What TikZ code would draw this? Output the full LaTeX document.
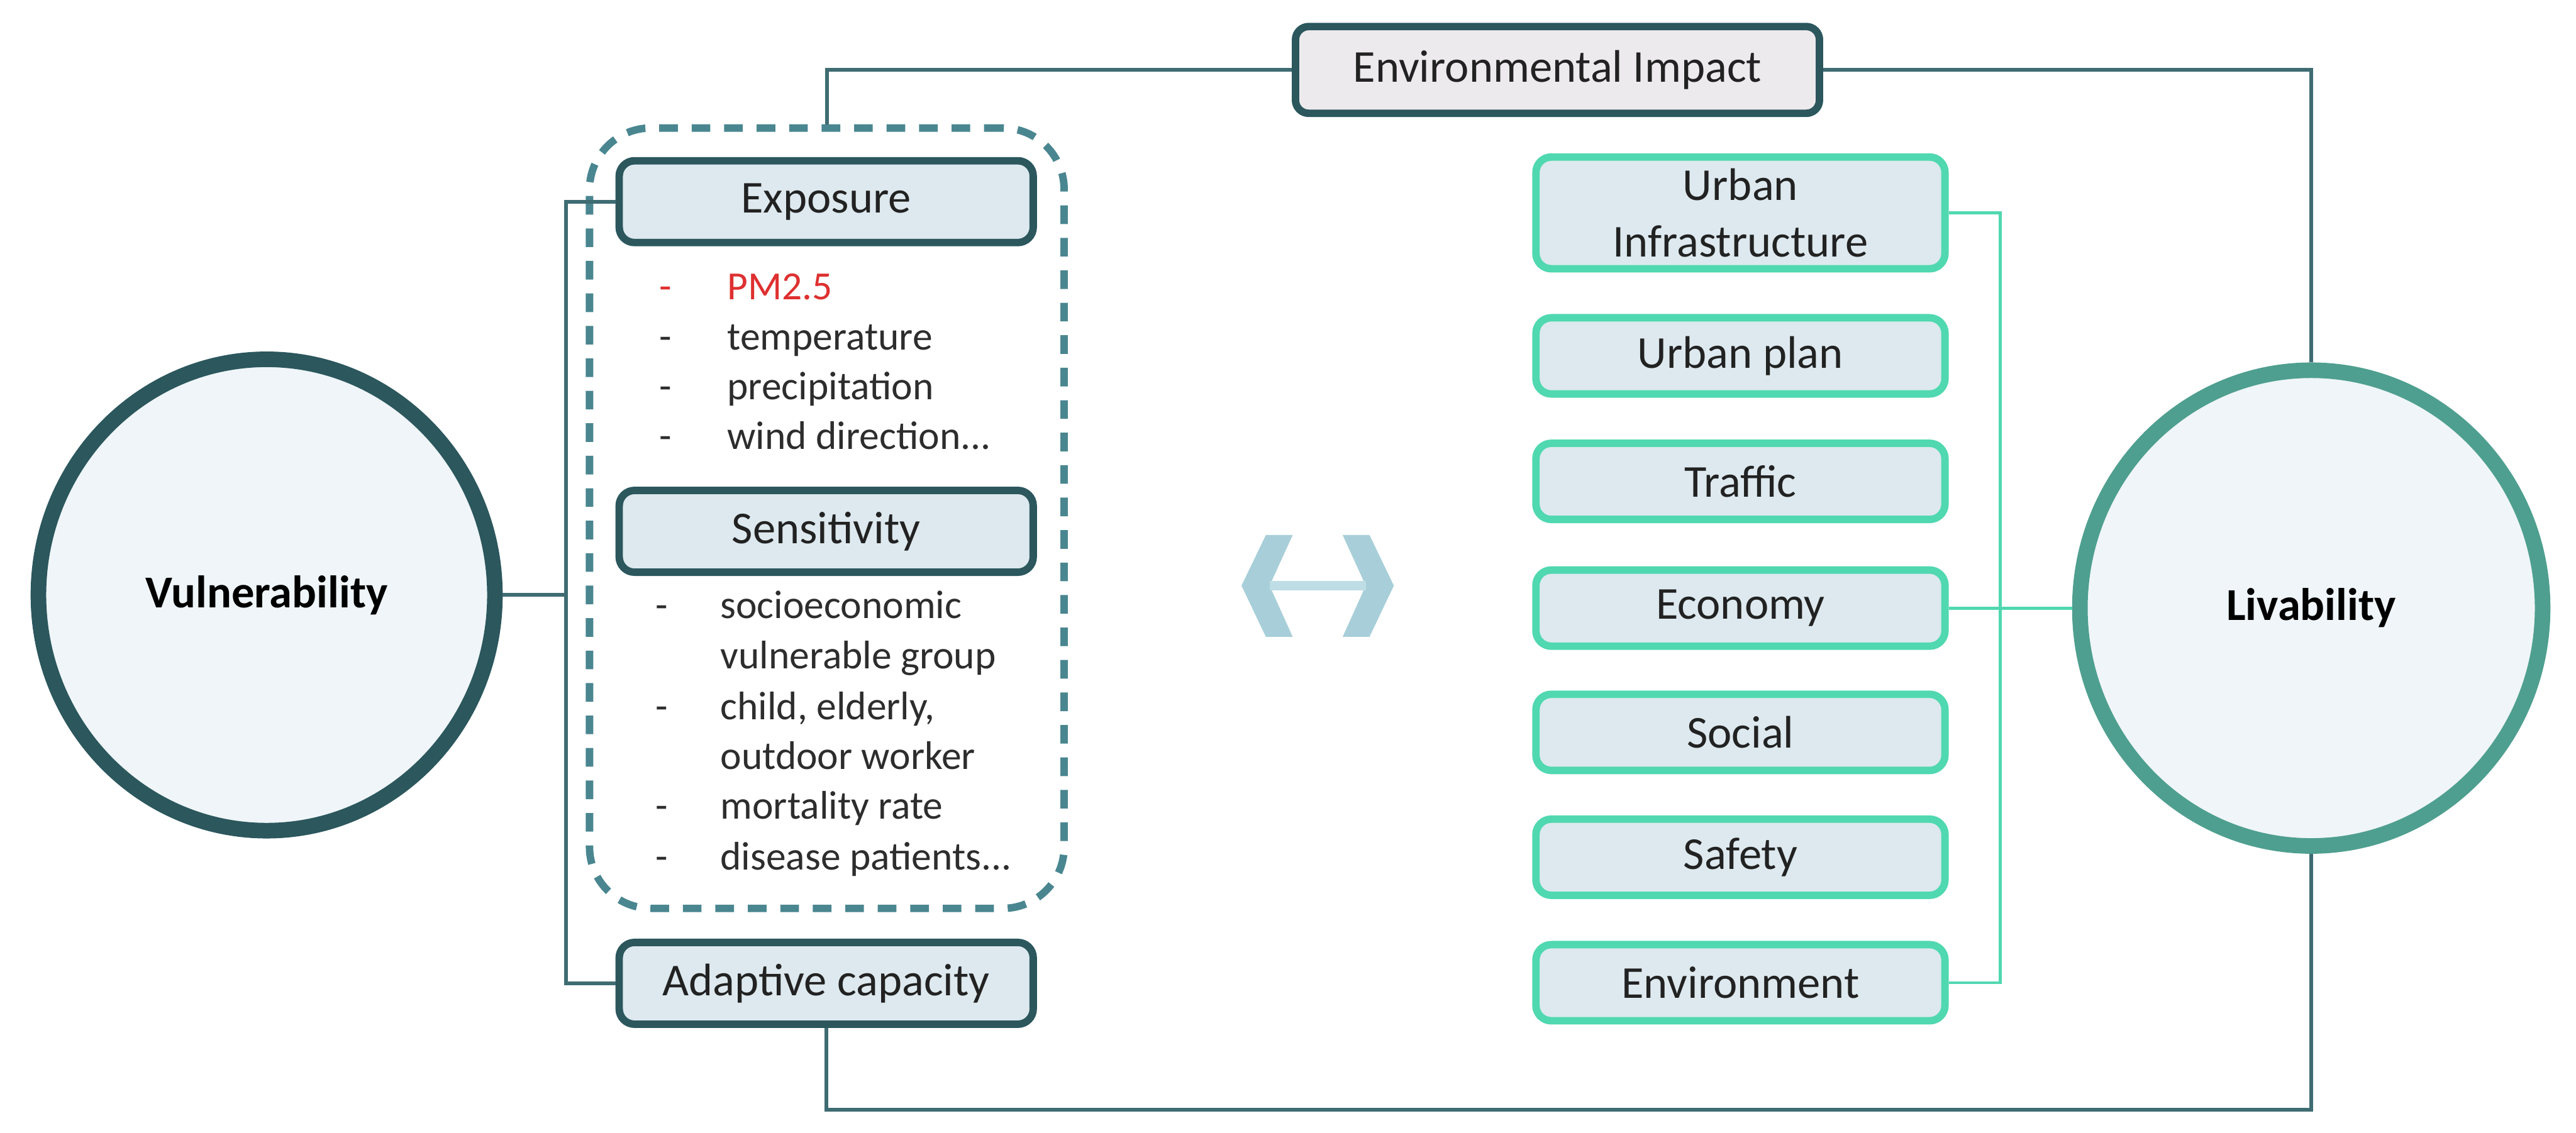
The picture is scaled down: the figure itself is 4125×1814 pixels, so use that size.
\documentclass[tikz,border=0pt]{standalone}
\usepackage{fontspec}
\setmainfont{Carlito}
\usetikzlibrary{shapes.geometric}
\definecolor{dteal}{RGB}{43,87,93}
\definecolor{lteal}{RGB}{62,108,114}
\definecolor{dashc}{RGB}{74,134,144}
\definecolor{mint}{RGB}{80,216,176}
\definecolor{livc}{RGB}{78,159,143}
\definecolor{boxfill}{RGB}{221,233,238}
\definecolor{envfill}{RGB}{237,234,237}
\definecolor{circfill}{RGB}{239,245,248}
\definecolor{pmred}{RGB}{222,48,48}
\definecolor{txt}{RGB}{34,34,34}
\definecolor{itemtxt}{RGB}{45,45,45}
\definecolor{arrc}{RGB}{168,207,217}
\definecolor{arrb}{RGB}{190,221,228}
\begin{document}
\begin{tikzpicture}[x=0.1mm,y=-0.1mm,
 lbl/.style={font=\fontsize{20.8pt}{25.6pt}\selectfont, text=txt},
 leftbox/.style={lbl, draw=dteal, line width=3.4pt, fill=boxfill, rounded corners=7pt, minimum width=66.3mm, minimum height=13.1mm, inner sep=0pt},
 rightbox/.style={lbl, draw=mint, line width=3.4pt, fill=boxfill, rounded corners=7pt, minimum width=65.5mm, minimum height=12.2mm, inner sep=0pt, align=center},
 bigcirc/.style={ellipse, line width=7.1pt, fill=circfill, inner sep=0pt, font=\bfseries\fontsize{20.8pt}{25pt}\selectfont, text=black},
 conn/.style={draw=lteal, line width=1.7pt},
 gconn/.style={draw=mint, line width=1.4pt},
 item/.style={anchor=base west, inner sep=0pt, font=\fontsize{18.2pt}{22pt}\selectfont, text=itemtxt},
]
\useasboundingbox (0,0) rectangle (4125,1814);

% dashed group
\node[draw=dashc, line width=3.4pt, dash pattern=on 8.5pt off 6.3pt, rounded corners=28pt,
      minimum width=76mm, minimum height=125mm, inner sep=0pt] (grp) at (1324,830) {};

% circles
\node[bigcirc, draw=dteal, minimum width=73.1mm, minimum height=75.5mm] (vul) at (427,953) {Vulnerability};
\node[bigcirc, draw=livc, minimum width=74.1mm, minimum height=76.2mm] (liv) at (3701,974) {Livability};

% top box
\node[lbl, draw=dteal, line width=3.4pt, fill=envfill, rounded corners=6pt,
      minimum width=83.9mm, minimum height=13.9mm, inner sep=0pt] (env) at (2494,112) {Environmental Impact};

% left boxes
\node[leftbox] (expo) at (1323,323) {Exposure};
\node[leftbox] (sens) at (1323,851) {Sensitivity};
\node[leftbox] (adapt) at (1323,1575) {Adaptive capacity};

% exposure items
\node[item, text=pmred] (e1) at (1055,480) {\makebox[31pt][l]{-}PM2.5};
\node[item] (e2) at (1055,560) {\makebox[31pt][l]{-}temperature};
\node[item] (e3) at (1055,640) {\makebox[31pt][l]{-}precipitation};
\node[item] (e4) at (1055,720) {\makebox[31pt][l]{-}wind direction...};

% sensitivity items
\node[item] (s1) at (1049,990) {\makebox[29.6pt][l]{-}socioeconomic};
\node[item] (s2) at (1049,1071) {\makebox[29.6pt][l]{}vulnerable group};
\node[item] (s3) at (1049,1153) {\makebox[29.6pt][l]{-}child, elderly,};
\node[item] (s4) at (1049,1232) {\makebox[29.6pt][l]{}outdoor worker};
\node[item] (s5) at (1049,1312) {\makebox[29.6pt][l]{-}mortality rate};
\node[item] (s6) at (1049,1393) {\makebox[29.6pt][l]{-}disease patients...};

% right boxes
\node[rightbox, minimum height=17.9mm] (ui) at (2787,341) {Urban\\Infrastructure};
\node[rightbox] (up) at (2787,570) {Urban plan};
\node[rightbox] (tr) at (2787,771) {Traffic};
\node[rightbox] (eco) at (2787,974) {Economy};
\node[rightbox] (soc) at (2787,1173) {Social};
\node[rightbox] (saf) at (2787,1373) {Safety};
\node[rightbox] (envr) at (2787,1574) {Environment};

% central double chevron
\fill[arrc] (2070,857) -- (2027,857) -- (1988,938) -- (2027,1020) -- (2070,1020) -- (2033,938) -- cycle;
\fill[arrc] (2150,857) -- (2193,857) -- (2232,938) -- (2193,1020) -- (2150,1020) -- (2187,938) -- cycle;
\draw[arrb, line width=4.3pt] (2033,938) -- (2187,938);

% coordinates
\coordinate (bx) at (906,0);
\coordinate (gx) at (3203,0);
\coordinate (bot) at (0,1777);

% left bracket
\draw[conn] (expo.west) -- (expo.west -| bx) -- (adapt.west -| bx) -- (adapt.west);
\draw[conn] (vul.east) -- (vul.east -| bx);

% outer loop
\draw[conn] (grp.north) |- (env.west);
\draw[conn] (env.east) -| (liv.north);
\draw[conn] (adapt.south) -- (adapt.south |- bot) -| (liv.south);

% right bracket
\draw[gconn] (ui.east) -- (ui.east -| gx) -- (envr.east -| gx) -- (envr.east);
\draw[gconn] (eco.east) -- (liv.west);
\end{tikzpicture}
\end{document}
